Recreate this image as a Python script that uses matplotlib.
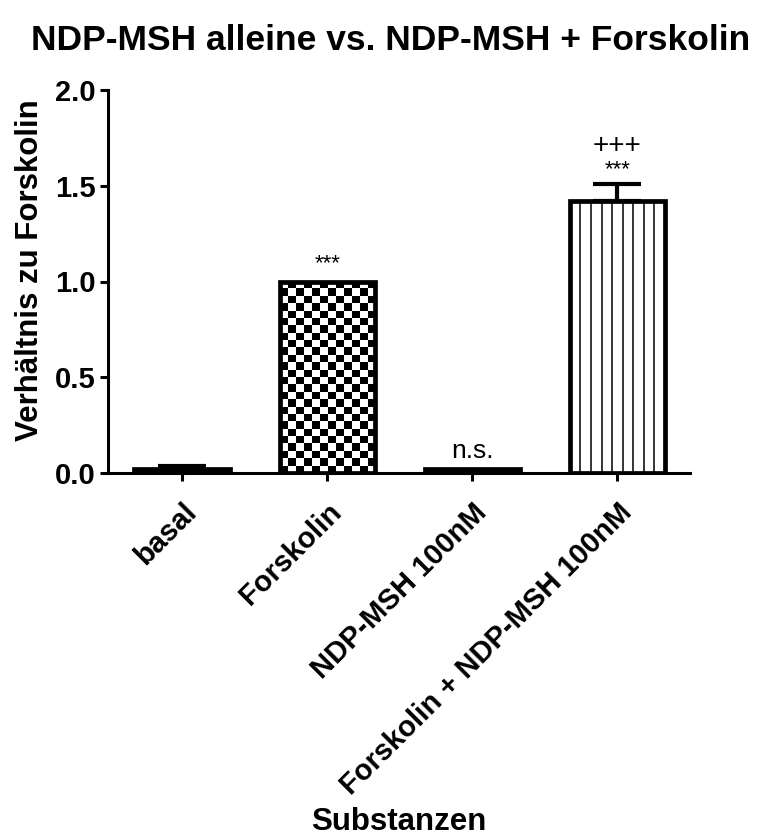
import numpy as np
import matplotlib
matplotlib.use("Agg")
import matplotlib.pyplot as plt

categories = ["basal", "Forskolin", "NDP-MSH 100nM", "Forskolin + NDP-MSH 100nM"]
values = [0.02, 1.0, 0.02, 1.42]
errors = [0.017, 0.0, 0.0, 0.09]
annotations = ["", "***", "n.s.", "***"]
annotations_top = ["", "", "", "+++"]
title = "NDP-MSH alleine vs. NDP-MSH + Forskolin"
ylabel = "Verhältnis zu Forskolin"
xlabel = "Substanzen"
yticks = [0.0, 0.5, 1.0, 1.5, 2.0]

plt.rcParams['font.family'] = ['Liberation Sans', 'DejaVu Sans']

fig = plt.figure(figsize=(7.74, 8.39), dpi=100)
ax = fig.add_axes([108/774, 1-473/839, 582/774, (473-90)/839])

x = np.arange(len(categories))
w = 0.655
lw_edge = 3.4

facecolors = ["black", "none", "black", "none"]
bars = ax.bar(x, values, width=w, color=facecolors, edgecolor="black", linewidth=lw_edge, zorder=3)

# checkerboard in Forskolin bar
nx, ny = 12, 26
checker = (np.add.outer(np.arange(ny), np.arange(nx)) % 2).astype(float)
ax.imshow(checker, cmap="gray", extent=(x[1]-w/2, x[1]+w/2, 0, values[1]),
          aspect="auto", interpolation="nearest", zorder=2, origin="lower")

# vertical lines in combined bar
xs = np.linspace(x[3]-w/2, x[3]+w/2, 10)[1:-1]
ax.vlines(xs, 0, values[3], color="black", linewidth=1.1, zorder=2.5)

# error bars (upper only)
for i in range(len(values)):
    if errors[i] > 0:
        ax.errorbar(x[i], values[i], yerr=[[0], [errors[i]]], fmt="none",
                    ecolor="black", elinewidth=3, capsize=17, capthick=3, zorder=4)

ann_y = [0, 1.095, 0.115, 1.585]
ann_size = [16, 16, 19, 16]
for i, t in enumerate(annotations):
    if t:
        ax.text(x[i], ann_y[i], t, ha="center", va="center", fontsize=ann_size[i])
ax.text(x[3], 1.71, annotations_top[3], ha="center", va="center", fontsize=20)

ax.set_xlim(-0.51, 3.5)
ax.set_ylim(0, 2.0)
ax.set_yticks(yticks)
ax.set_yticklabels([f"{v:.1f}" for v in yticks], fontsize=21, fontweight="bold")
ax.set_xticks(x)
ax.set_xticklabels(categories, rotation=45, ha="right", rotation_mode="anchor",
                   fontsize=21, fontweight="bold")
ax.spines["top"].set_visible(False)
ax.spines["right"].set_visible(False)
ax.spines["left"].set_linewidth(2.2)
ax.spines["bottom"].set_linewidth(2.2)
ax.tick_params(axis="both", width=2.2, length=6, direction="out", pad=3)
ax.tick_params(axis="x", pad=12)
ax.set_ylabel(ylabel, fontsize=22.5, fontweight="bold")
ax.set_xlabel(xlabel, fontsize=22.5, fontweight="bold")
ax.xaxis.label.set_va("center")
ax.yaxis.label.set_va("center")
ax.xaxis.set_label_coords(0.5, -(822-473)/(473-90))
ax.yaxis.set_label_coords(-(108-30)/582, 0.529)
fig.suptitle(title, fontsize=25.5, fontweight="bold", x=391/774, y=1-40/839, va="center")

fig.savefig("out.png", dpi=100)
